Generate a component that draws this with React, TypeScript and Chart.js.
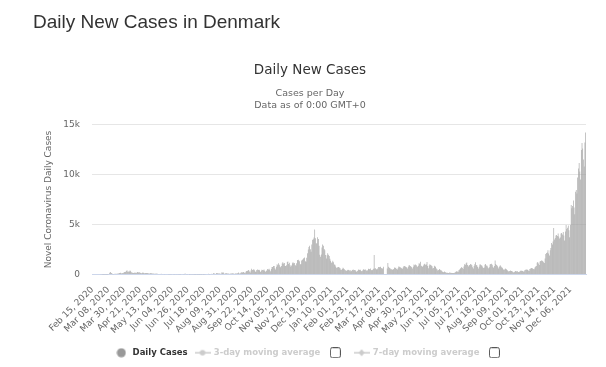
import React, { useEffect, useRef } from "react";
import { Chart, registerables } from "chart.js";

Chart.register(...registerables);

// ---- Data (daily new cases, Denmark, Feb 15 2020 – Dec 27 2021) ----
const feb2020 = [0, 0, 0, 0, 0, 0, 0, 0, 0, 0, 0, 0, 1, 0, 2];
const mar2020 = [1, 1, 2, 5, 5, 7, 11, 15, 55, 172, 252, 160, 127, 37, 34, 38, 66, 79, 55, 105, 75, 109, 143, 142, 183, 111, 146, 131, 172, 242, 234];
const apr2020 = [283, 371, 390, 244, 292, 312, 390, 331, 233, 184, 177, 161, 178, 193, 144, 170, 247, 230, 190, 221, 179, 158, 122, 165, 198, 140, 137, 155, 130, 160];
const may2020 = [152, 128, 107, 99, 123, 146, 110, 99, 110, 70, 65, 84, 91, 77, 66, 58, 52, 61, 47, 72, 54, 60, 41, 48, 33, 39, 43, 55, 60, 37, 28];
const jun2020 = [26, 30, 33, 47, 44, 36, 22, 18, 42, 29, 38, 37, 33, 26, 25, 35, 40, 51, 38, 25, 14, 110, 41, 30, 33, 38, 47, 12, 29, 32];
const jul2020 = [18, 19, 23, 17, 9, 10, 29, 15, 12, 19, 12, 7, 14, 10, 20, 22, 18, 10, 20, 35, 55, 46, 42, 72, 30, 34, 40, 47, 73, 59, 120];
const aug2020 = [121, 67, 55, 138, 115, 121, 88, 127, 69, 65, 110, 250, 141, 206, 66, 69, 136, 135, 119, 86, 105, 84, 49, 97, 109, 114, 104, 98, 72, 43, 116];
const sep2020 = [96, 133, 133, 190, 109, 102, 173, 213, 196, 214, 243, 187, 124, 265, 340, 350, 413, 454, 303, 204, 389, 567, 453, 479, 528, 415, 279, 304, 446, 489];
const oct2020 = [449, 474, 427, 261, 347, 467, 461, 436, 495, 381, 275, 357, 416, 545, 510, 583, 442, 331, 550, 760, 739, 850, 859, 620, 498, 772, 1036, 918, 1129, 984, 790];
const nov2020 = [720, 855, 1110, 1217, 1089, 1154, 838, 846, 921, 1241, 1289, 1062, 1183, 919, 770, 909, 1124, 1218, 1127, 1153, 950, 844, 1115, 1439, 1393, 1485, 1324, 1017, 1026, 1411];
const dec2020 = [1475, 1556, 1662, 1690, 1324, 1263, 1667, 2115, 2504, 2762, 2880, 2528, 2282, 3010, 3466, 3517, 3693, 4508, 3627, 3097, 3126, 3714, 3556, 2885, 1979, 1767, 2011, 2709, 2993, 2885, 2544];
const jan2021 = [2420, 1960, 1599, 1937, 2115, 1964, 1843, 1568, 1363, 1169, 1227, 1369, 1226, 1011, 987, 808, 675, 663, 739, 758, 697, 616, 468, 472, 539, 683, 601, 515, 458, 369, 376];
const feb2021 = [432, 484, 447, 402, 435, 312, 366, 454, 505, 437, 459, 414, 301, 273, 356, 474, 490, 461, 471, 358, 325, 389, 533, 486, 481, 498, 424, 362];
const mar2021 = [422, 579, 552, 520, 607, 457, 408, 464, 564, 1950, 602, 614, 521, 499, 597, 752, 727, 745, 781, 644, 539, 626, 780, 0, 0, 0, 0, 610, 1150, 785, 672];
const apr2021 = [629, 516, 525, 493, 461, 558, 707, 647, 681, 542, 510, 613, 789, 781, 726, 668, 631, 579, 712, 820, 862, 790, 758, 700, 588, 762, 912, 913, 859, 784];
const may2021 = [729, 592, 770, 1006, 917, 1000, 954, 835, 767, 863, 1120, 1068, 1283, 881, 820, 778, 900, 1016, 1072, 966, 1011, 1246, 840, 634, 901, 1014, 940, 889, 834, 601, 646];
const jun2021 = [879, 812, 783, 601, 488, 371, 442, 561, 473, 432, 391, 308, 243, 232, 290, 245, 206, 187, 164, 145, 157, 193, 165, 178, 162, 150, 147, 140, 165, 223];
const jul2021 = [270, 330, 288, 245, 421, 502, 588, 660, 738, 651, 549, 792, 1013, 963, 1128, 1198, 940, 797, 888, 946, 1061, 1002, 918, 722, 605, 862, 1032, 1234, 942, 895, 747];
const aug2021 = [602, 774, 988, 1009, 923, 879, 721, 660, 710, 987, 1043, 912, 873, 735, 628, 734, 990, 1040, 1079, 968, 784, 671, 841, 1402, 1049, 958, 872, 713, 601, 788, 920];
const sep2021 = [832, 735, 681, 545, 448, 512, 611, 560, 497, 431, 337, 291, 355, 406, 360, 340, 288, 231, 198, 274, 352, 335, 302, 315, 260, 228, 302, 370, 385, 364];
const oct2021 = [360, 310, 290, 420, 480, 500, 470, 470, 400, 360, 540, 600, 650, 630, 600, 560, 520, 690, 790, 860, 1170, 1250, 1100, 950, 1290, 1360, 1400, 1380, 1330, 1220, 1150];
const nov2021 = [1600, 2050, 2150, 2200, 2420, 2100, 1900, 2420, 2640, 3150, 3000, 3300, 4650, 3500, 3650, 3900, 3950, 3850, 4100, 3800, 3600, 3700, 4100, 4150, 4000, 4250, 3900, 3400, 4300, 4950];
const dec2021 = [4560, 4680, 4900, 4430, 3720, 4960, 6950, 6630, 6850, 7400, 6700, 6020, 8270, 8450, 8100, 9700, 10600, 11150, 10300, 9500, 12450, 13150, 12600, 11500, 10800, 13200, 14200];

const dailyCases = [
  ...feb2020, ...mar2020, ...apr2020, ...may2020, ...jun2020, ...jul2020, ...aug2020,
  ...sep2020, ...oct2020, ...nov2020, ...dec2020, ...jan2021, ...feb2021, ...mar2021,
  ...apr2021, ...may2021, ...jun2021, ...jul2021, ...aug2021, ...sep2021, ...oct2021,
  ...nov2021, ...dec2021,
];

const MONTH_NAMES = ["Jan", "Feb", "Mar", "Apr", "May", "Jun", "Jul", "Aug", "Sep", "Oct", "Nov", "Dec"];
const TICK_EVERY = 22;
const TICK_LABELS = [
  "Feb 15, 2020", "Mar 08, 2020", "Mar 30, 2020", "Apr 21, 2020", "May 13, 2020", "Jun 04, 2020",
  "Jun 26, 2020", "Jul 18, 2020", "Aug 09, 2020", "Aug 31, 2020", "Sep 22, 2020", "Oct 14, 2020",
  "Nov 05, 2020", "Nov 27, 2020", "Dec 19, 2020", "Jan 10, 2021", "Feb 01, 2021", "Feb 23, 2021",
  "Mar 17, 2021", "Apr 08, 2021", "Apr 30, 2021", "May 22, 2021", "Jun 13, 2021", "Jul 05, 2021",
  "Jul 27, 2021", "Aug 18, 2021", "Sep 09, 2021", "Oct 01, 2021", "Oct 23, 2021", "Nov 14, 2021",
  "Dec 06, 2021",
];
const Y_TICKS = ["0", "5k", "10k", "15k"];

function buildCategories(n: number): string[] {
  const out: string[] = [];
  for (let i = 0; i < n; i++) {
    const dt = new Date(Date.UTC(2020, 1, 15 + i));
    out.push(`${MONTH_NAMES[dt.getUTCMonth()]} ${String(dt.getUTCDate()).padStart(2, "0")}, ${dt.getUTCFullYear()}`);
  }
  return out;
}

const FONT = "'DejaVu Sans', 'Noto Sans', sans-serif";

function makeCanvas(w: number, h: number, draw: (ctx: CanvasRenderingContext2D) => void) {
  const c = document.createElement("canvas");
  c.width = w;
  c.height = h;
  const ctx = c.getContext("2d")!;
  draw(ctx);
  return c;
}

export default function App() {
  const ref = useRef<HTMLCanvasElement | null>(null);

  useEffect(() => {
    if (!ref.current) return;
    const categories = buildCategories(dailyCases.length);

    const circleSym = makeCanvas(10, 10, (ctx) => {
      ctx.fillStyle = "#999999";
      ctx.beginPath();
      ctx.arc(5, 5, 4.5, 0, Math.PI * 2);
      ctx.fill();
    });
    const lineDotSym = makeCanvas(16, 8, (ctx) => {
      ctx.strokeStyle = "#cccccc";
      ctx.lineWidth = 1.5;
      ctx.beginPath();
      ctx.moveTo(0, 4);
      ctx.lineTo(16, 4);
      ctx.stroke();
      ctx.fillStyle = "#cccccc";
      ctx.beginPath();
      ctx.arc(8, 4, 2.8, 0, Math.PI * 2);
      ctx.fill();
    });
    const lineDiamondSym = makeCanvas(16, 8, (ctx) => {
      ctx.strokeStyle = "#cccccc";
      ctx.lineWidth = 1.5;
      ctx.beginPath();
      ctx.moveTo(0, 4);
      ctx.lineTo(16, 4);
      ctx.stroke();
      ctx.fillStyle = "#cccccc";
      ctx.beginPath();
      ctx.moveTo(8, 0.5);
      ctx.lineTo(11, 4);
      ctx.lineTo(8, 7.5);
      ctx.lineTo(5, 4);
      ctx.closePath();
      ctx.fill();
    });
    const checkSym = makeCanvas(11, 11, (ctx) => {
      ctx.fillStyle = "#ffffff";
      ctx.strokeStyle = "#555555";
      ctx.lineWidth = 1;
      ctx.beginPath();
      const x = 0.5, y = 0.5, w = 10, h = 10, r = 2;
      ctx.moveTo(x + r, y);
      ctx.lineTo(x + w - r, y);
      ctx.quadraticCurveTo(x + w, y, x + w, y + r);
      ctx.lineTo(x + w, y + h - r);
      ctx.quadraticCurveTo(x + w, y + h, x + w - r, y + h);
      ctx.lineTo(x + r, y + h);
      ctx.quadraticCurveTo(x, y + h, x, y + h - r);
      ctx.lineTo(x, y + r);
      ctx.quadraticCurveTo(x, y, x + r, y);
      ctx.closePath();
      ctx.fill();
      ctx.stroke();
    });

    const legendItems = [
      { text: "Daily Cases", pointStyle: circleSym, fillStyle: "#999", strokeStyle: "#999", lineWidth: 0, hidden: false, datasetIndex: 0, fontColor: "#333333" },
      { text: "3-day moving average", pointStyle: lineDotSym, fillStyle: "#ccc", strokeStyle: "#ccc", lineWidth: 0, hidden: false, datasetIndex: 0, fontColor: "#cccccc" },
      { text: "", pointStyle: checkSym, fillStyle: "#fff", strokeStyle: "#555", lineWidth: 0, hidden: false, datasetIndex: 0, fontColor: "#cccccc" },
      { text: "7-day moving average", pointStyle: lineDiamondSym, fillStyle: "#ccc", strokeStyle: "#ccc", lineWidth: 0, hidden: false, datasetIndex: 0, fontColor: "#cccccc" },
      { text: "", pointStyle: checkSym, fillStyle: "#fff", strokeStyle: "#555", lineWidth: 0, hidden: false, datasetIndex: 0, fontColor: "#cccccc" },
    ];

    const chart = new Chart(ref.current, {
      type: "bar",
      data: {
        labels: categories,
        datasets: [
          {
            label: "Daily Cases",
            data: dailyCases,
            backgroundColor: "#a0a0a0",
            borderWidth: 0,
            barPercentage: 0.85,
            categoryPercentage: 1,
          },
        ],
      },
      options: {
        responsive: false,
        animation: false,
        layout: { padding: { top: 0, left: 34, right: 20, bottom: 0 } },
        plugins: {
          title: {
            display: true,
            text: "Daily New Cases",
            color: "#333333",
            font: { family: FONT, size: 13.5, weight: "normal" },
            padding: { top: 62, bottom: 9 },
          },
          subtitle: {
            display: true,
            text: ["Cases per Day", "Data as of 0:00 GMT+0"],
            color: "#666666",
            font: { family: FONT, size: 9.5, lineHeight: 1.3 },
            padding: { top: 0, bottom: 12.6 },
          },
          legend: {
            position: "bottom",
            labels: {
              usePointStyle: true,
              pointStyleWidth: 14,
              padding: 8,
              color: "#333333",
              font: { family: FONT, size: 8.5, weight: "bold" },
              generateLabels: () => legendItems as any,
            },
          },
          tooltip: { enabled: false },
        },
        scales: {
          x: {
            grid: { display: false },
            border: { display: true, color: "#ccd6eb", width: 1 },
            ticks: {
              autoSkip: false,
              minRotation: 45,
              maxRotation: 45,
              padding: 2,
              color: "#666666",
              font: { family: FONT, size: 9 },
              callback: (_v: any, i: number) => (i % TICK_EVERY === 0 ? TICK_LABELS[i / TICK_EVERY] ?? "" : ""),
            },
            afterFit: (s: any) => {
              s.height = 66;
            },
          },
          y: {
            min: 0,
            max: 15000,
            ticks: {
              stepSize: 5000,
              padding: 12,
              color: "#666666",
              font: { family: FONT, size: 9 },
              callback: (v: any) => Y_TICKS[Math.round(Number(v) / 5000)] ?? "",
            },
            grid: { color: "#e6e6e6", drawTicks: false },
            border: { display: false },
            title: {
              display: true,
              text: "Novel Coronavirus Daily Cases",
              color: "#666666",
              font: { family: FONT, size: 9 },
              padding: { top: 9, bottom: 0 },
            },
            afterFit: (s: any) => {
              s.width = 58;
            },
          },
        },
      },
    });

    return () => chart.destroy();
  }, []);

  return (
    <div style={{ position: "absolute", left: 0, top: 0, width: 606, height: 367, background: "#fff", overflow: "hidden" }}>
      <canvas ref={ref} width={606} height={367} style={{ position: "absolute", left: 0, top: 0, width: 606, height: 367 }} />
      <div
        style={{
          position: "absolute",
          left: 33,
          top: 12,
          fontFamily: "'Liberation Sans', Arial, sans-serif",
          fontSize: 19,
          lineHeight: "19px",
          color: "#333333",
          whiteSpace: "nowrap",
        }}
      >
        Daily New Cases in Denmark
      </div>
    </div>
  );
}
